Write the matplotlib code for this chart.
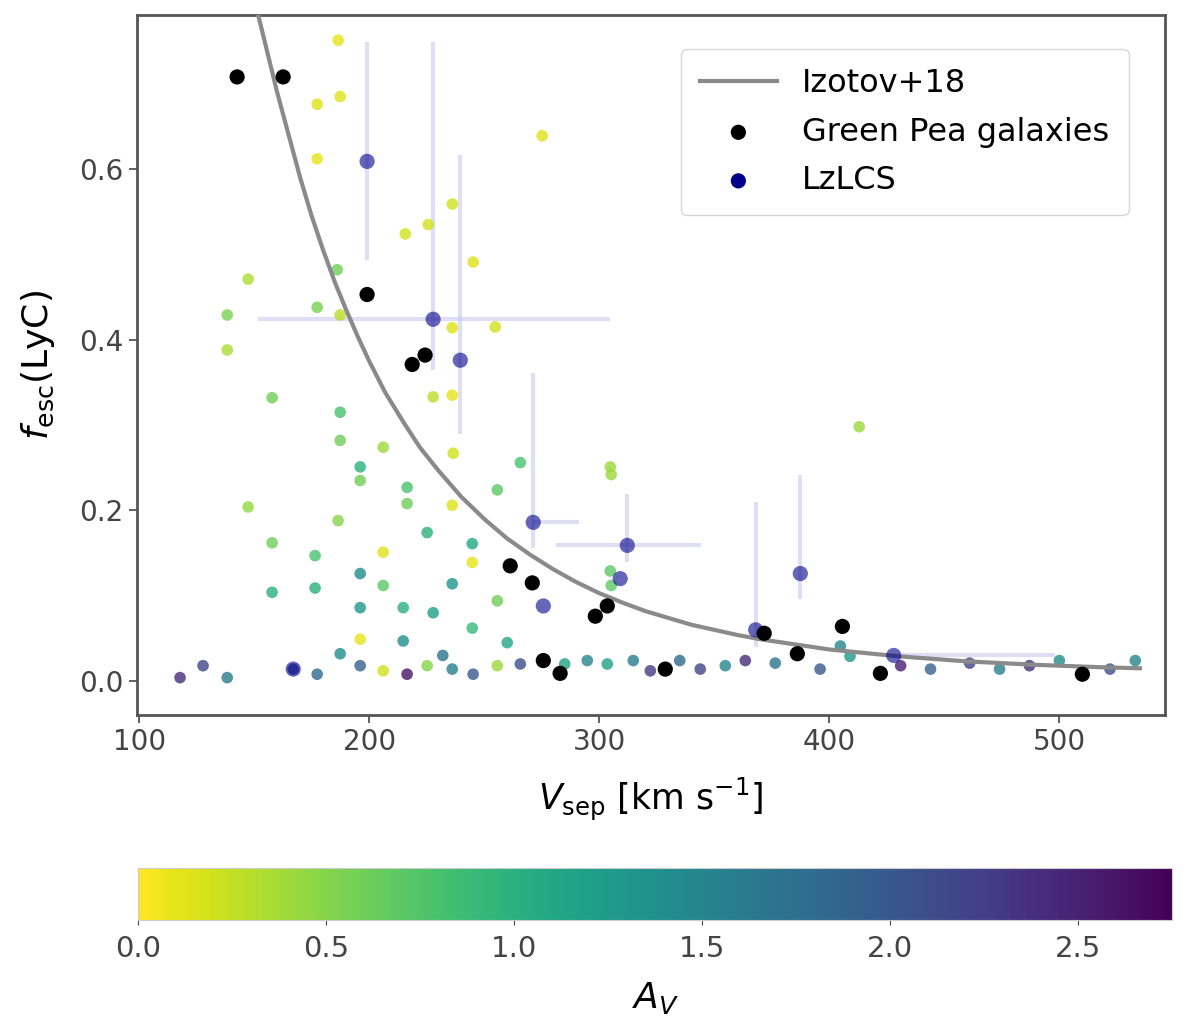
import matplotlib
matplotlib.use("Agg")
import matplotlib.pyplot as plt
import numpy as np

# ─── data ─────────────────────────────────────────────────────────────────────

# Izotov+18 relation (curve)
curve_v = [150, 155, 160, 165, 170, 175, 180, 185, 190, 195, 200, 207, 215,
           222, 230, 240, 250, 260, 270, 280, 290, 300, 310, 320, 330, 340,
           350, 360, 370, 385, 400, 415, 430, 445, 460, 475, 490, 505, 520, 535]
curve_f = [0.80, 0.745, 0.69, 0.64, 0.59, 0.545, 0.505, 0.468, 0.435, 0.404,
           0.375, 0.338, 0.303, 0.274, 0.247, 0.216, 0.19, 0.167, 0.148, 0.131,
           0.116, 0.103, 0.092, 0.082, 0.074, 0.066, 0.06, 0.054, 0.049, 0.043,
           0.037, 0.033, 0.029, 0.026, 0.023, 0.021, 0.019, 0.0175, 0.016, 0.015]

# colour-coded sample
sim_v = [186.5, 177.4, 187.4, 177.4, 275.2, 236.1, 225.7, 215.7, 245.2, 147.4,
         186.1, 138.3, 177.4, 187.4, 236.1, 254.8, 138.3, 157.8, 187.4, 227.8,
         236.1, 187.4, 206.1, 236.5, 196.1, 196.1, 265.7, 304.8, 216.5, 216.5,
         147.4, 255.7, 186.5, 236.1, 225.2, 157.8, 176.5, 244.8, 244.8, 206.1,
         304.8, 196.1, 206.1, 236.1, 157.8, 176.5, 196.1, 214.8, 227.8, 255.7,
         196.1, 244.8, 214.8, 413.0, 305.2, 305.2, 404.8,
         117.8, 127.8, 138.3, 167.0, 177.4, 187.4, 196.1, 206.1, 216.5, 225.2,
         236.1, 245.2, 255.7, 265.7, 294.8, 303.5, 314.8, 322.2, 335.0, 343.9,
         354.8, 363.5, 376.5, 396.0, 409.0, 431.0, 444.0, 461.0, 474.0, 487.0,
         500.0, 522.0, 533.0, 285.0, 232.0, 260.0]
sim_f = [0.751, 0.676, 0.685, 0.612, 0.639, 0.559, 0.535, 0.524, 0.491, 0.471,
         0.482, 0.429, 0.438, 0.429, 0.414, 0.415, 0.388, 0.332, 0.315, 0.333,
         0.335, 0.282, 0.274, 0.267, 0.251, 0.235, 0.256, 0.251, 0.227, 0.208,
         0.204, 0.224, 0.188, 0.206, 0.174, 0.162, 0.147, 0.161, 0.139, 0.151,
         0.129, 0.126, 0.112, 0.114, 0.104, 0.109, 0.086, 0.086, 0.080, 0.094,
         0.049, 0.062, 0.047, 0.298, 0.242, 0.112, 0.041,
         0.004, 0.018, 0.004, 0.014, 0.008, 0.032, 0.018, 0.012, 0.008, 0.018,
         0.014, 0.008, 0.018, 0.020, 0.024, 0.020, 0.024, 0.012, 0.024, 0.014,
         0.018, 0.024, 0.021, 0.014, 0.029, 0.018, 0.014, 0.021, 0.014, 0.018,
         0.024, 0.014, 0.024, 0.020, 0.030, 0.045]
sim_c = [0.10, 0.15, 0.15, 0.10, 0.15, 0.20, 0.20, 0.20, 0.15, 0.35,
         0.60, 0.55, 0.55, 0.30, 0.15, 0.20, 0.35, 0.60, 0.80, 0.30,
         0.10, 0.60, 0.40, 0.20, 1.00, 0.60, 0.80, 0.40, 0.80, 0.60,
         0.45, 0.70, 0.50, 0.15, 1.00, 0.60, 0.80, 1.10, 0.10, 0.15,
         0.70, 1.40, 0.70, 1.30, 1.00, 1.00, 1.30, 1.00, 1.20, 0.60,
         0.10, 0.90, 1.40, 0.40, 0.40, 0.70, 1.50,
         2.40, 2.20, 1.60, 2.10, 1.80, 1.40, 1.90, 0.20, 2.60, 0.50,
         1.60, 2.00, 0.40, 2.10, 1.50, 1.20, 1.60, 2.30, 1.80, 2.20,
         1.50, 2.40, 1.70, 2.00, 1.30, 2.50, 1.90, 2.20, 1.60, 2.40,
         1.40, 2.10, 1.50, 1.20, 1.70, 1.10]

# Green Pea galaxies
gp_v = [142.6, 162.6, 199.1, 218.7, 224.3, 261.3, 270.9, 298.3, 303.5, 275.7,
        283.0, 328.7, 371.7, 386.1, 405.7, 422.2, 510.0]
gp_f = [0.708, 0.708, 0.453, 0.371, 0.382, 0.135, 0.115, 0.076, 0.088, 0.024,
        0.009, 0.014, 0.056, 0.032, 0.064, 0.009, 0.008]

# LzLCS
lz_v = [199.1, 227.8, 239.6, 271.3, 312.2, 275.7, 309.1, 387.4, 368.0, 428.0, 167.0]
lz_f = [0.609, 0.424, 0.376, 0.186, 0.159, 0.088, 0.120, 0.126, 0.060, 0.030, 0.014]
lz_v_lo = [0, 76, 0, 0, 31, 0, 0, 0, 0, 0, 0]
lz_v_hi = [0, 77, 0, 20, 32, 0, 0, 0, 0, 70, 0]
lz_f_lo = [0.115, 0.06, 0.086, 0.03, 0.02, 0, 0, 0.03, 0.02, 0, 0]
lz_f_hi = [0.14, 0.325, 0.24, 0.175, 0.06, 0, 0, 0.116, 0.15, 0, 0]

# ─── figure ───────────────────────────────────────────────────────────────────

fig = plt.figure(figsize=(12, 10.32), dpi=100)
ax = fig.add_axes([0.114, 0.307, 0.857, 0.678])
cax = fig.add_axes([0.115, 0.109, 0.862, 0.050])

sc = ax.scatter(sim_v, sim_f, c=sim_c, cmap="viridis_r", vmin=0, vmax=2.75,
                s=70, alpha=0.8, edgecolors="none", zorder=2)

ax.plot(curve_v, curve_f, color="#8a8a8a", lw=3, label="Izotov+18", zorder=3)

ax.errorbar(lz_v, lz_f, xerr=[lz_v_lo, lz_v_hi], yerr=[lz_f_lo, lz_f_hi],
            fmt="none", ecolor="#c8c8ee", elinewidth=3, alpha=0.6, zorder=1)
ax.scatter(gp_v, gp_f, color="black", s=120, edgecolors="none", zorder=5,
           label="Green Pea galaxies")
ax.scatter(lz_v, lz_f, color="darkblue", s=120, alpha=0.6,
           edgecolors="none", zorder=4, label="LzLCS")

ax.set_xlim(99, 546)
ax.set_ylim(-0.04, 0.78)
ax.set_xticks([100, 200, 300, 400, 500])
ax.set_yticks([0.0, 0.2, 0.4, 0.6])
ax.tick_params(labelsize=20, length=6, width=1.2, colors="#444444")
ax.set_xlabel(r"$V_{\rm sep}$ [km s$^{-1}$]", fontsize=25, labelpad=14)
ax.set_ylabel(r"$f_{\rm esc}({\rm LyC})$", fontsize=26, labelpad=16)
for spine in ax.spines.values():
    spine.set_color("#555555")
    spine.set_linewidth(2)

leg = ax.legend(loc="upper right", fontsize=23, labelspacing=0.55,
                borderpad=0.6, handlelength=2.4, bbox_to_anchor=(0.98, 0.975))
for h in leg.legend_handles:
    h.set_alpha(1)

cb = fig.colorbar(sc, cax=cax, orientation="horizontal")
cb.solids.set_alpha(1)
cb.set_ticks([0.0, 0.5, 1.0, 1.5, 2.0, 2.5])
cb.ax.tick_params(labelsize=21, colors="#444444", pad=8)
cb.set_label(r"$A_V$", fontsize=26, labelpad=12)
cb.outline.set_edgecolor("#cccccc")

plt.savefig("out.png", dpi=100)
